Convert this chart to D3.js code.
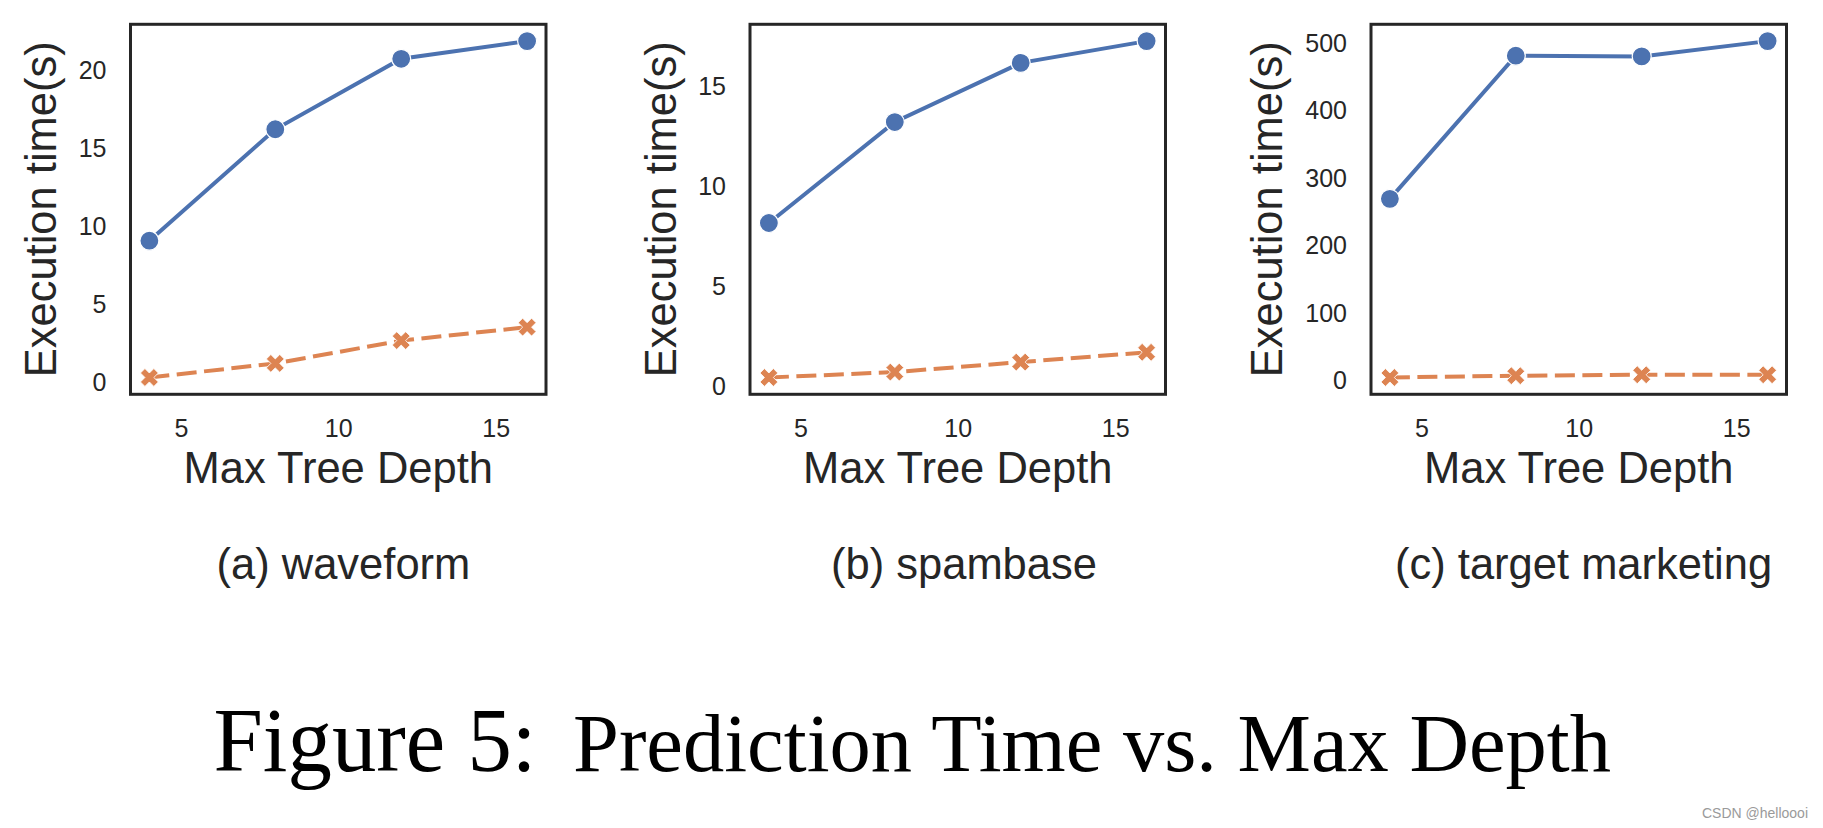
<!DOCTYPE html>
<html>
<head>
<meta charset="utf-8">
<script src="https://cdn.jsdelivr.net/npm/d3@7"></script>
<style>
  html, body { margin: 0; padding: 0; background: #ffffff; }
  svg { display: block; }
</style>
</head>
<body>
<svg id="chart" width="1823" height="828"></svg>
<script>
// ---------------- data ----------------
const depths = [4, 8, 12, 16];
const xTickValues = [5, 10, 15];

const waveformSolid  = [9.03, 16.16, 20.67, 21.80];
const waveformDashed = [0.28, 1.18, 2.64, 3.50];
const spambaseSolid  = [8.11, 13.16, 16.12, 17.21];
const spambaseDashed = [0.38, 0.65, 1.15, 1.64];
const targetSolid    = [268, 480, 479, 501.6];
const targetDashed   = [3.4, 6.0, 7.4, 7.4];

const waveformYTicks = [0, 5, 10, 15, 20];
const spambaseYTicks = [0, 5, 10, 15];
const targetYTicks   = [0, 100, 200, 300, 400, 500];

const subcaptions = ["(a) waveform", "(b) spambase", "(c) target marketing"];
const xLabel = "Max Tree Depth";
const yLabel = "Execution time(s)";
const captionLead = "Figure 5:";
const captionRest = "Prediction Time vs. Max Depth";
const watermark = "CSDN @helloooi";

// ---------------- layout ----------------
const panels = [
  { solid: waveformSolid, dashed: waveformDashed, yTicks: waveformYTicks, left: 130.5, ylabX: 55.5, sub: subcaptions[0], subX: 216.5 },
  { solid: spambaseSolid, dashed: spambaseDashed, yTicks: spambaseYTicks, left: 750,   ylabX: 676,  sub: subcaptions[1], subX: 831 },
  { solid: targetSolid,   dashed: targetDashed,   yTicks: targetYTicks,   left: 1371,  ylabX: 1281.5, sub: subcaptions[2], subX: 1395 }
];
const pw = 415.5, plotTop = 24.3, plotBottom = 394.3;
const blue = "#4C72B0", orange = "#DD8452", ink = "#262626";
const sans = "'Liberation Sans', Arial, Helvetica, sans-serif";
const serif = "'Liberation Serif', 'Times New Roman', Times, serif";

const svg = d3.select("#chart");
svg.append("rect").attr("width", 1823).attr("height", 828).attr("fill", "#fff");

function padded(lo, hi) { const p = (hi - lo) * 0.05; return [lo - p, hi + p]; }

panels.forEach(p => {
  const g = svg.append("g");
  const xs = d3.scaleLinear().domain(padded(d3.min(depths), d3.max(depths))).range([p.left, p.left + pw]);
  const all = p.solid.concat(p.dashed);
  const ys = d3.scaleLinear().domain(padded(d3.min(all), d3.max(all))).range([plotBottom, plotTop]);

  // axes (labels only, no tick marks)
  const ax = g.append("g").attr("transform", `translate(0,${plotBottom})`)
    .call(d3.axisBottom(xs).tickValues(xTickValues).tickSize(0).tickPadding(25).tickFormat(d3.format("d")));
  const ay = g.append("g").attr("transform", `translate(${p.left},0)`)
    .call(d3.axisLeft(ys).tickValues(p.yTicks).tickSize(0).tickPadding(24).tickFormat(d3.format("d")));
  [ax, ay].forEach(a => {
    a.select(".domain").remove();
    a.selectAll("text").attr("font-family", sans).attr("font-size", 25).attr("fill", ink);
  });
  ay.selectAll("text").attr("dy", "0.36em");

  // frame
  g.append("rect").attr("x", p.left).attr("y", plotTop).attr("width", pw).attr("height", plotBottom - plotTop)
    .attr("fill", "none").attr("stroke", ink).attr("stroke-width", 3);

  const line = d3.line().x((d, i) => xs(depths[i])).y(d => ys(d));

  // dashed series
  g.append("path").datum(p.dashed).attr("d", line).attr("fill", "none")
    .attr("stroke", orange).attr("stroke-width", 4).attr("stroke-dasharray", "20,7.5");
  g.selectAll(".xm").data(p.dashed).enter().append("path")
    .attr("d", d3.symbol().type(d3.symbolCross).size(200))
    .attr("transform", (d, i) => `translate(${xs(depths[i])},${ys(d)}) rotate(45)`)
    .attr("fill", orange).attr("stroke", "#fff").attr("stroke-width", 0.8);

  // solid series
  g.append("path").datum(p.solid).attr("d", line).attr("fill", "none")
    .attr("stroke", blue).attr("stroke-width", 4);
  g.selectAll(".cm").data(p.solid).enter().append("circle")
    .attr("cx", (d, i) => xs(depths[i])).attr("cy", d => ys(d)).attr("r", 9.5)
    .attr("fill", blue).attr("stroke", "#fff").attr("stroke-width", 1.2);

  // axis labels
  g.append("text").attr("x", p.left + pw / 2).attr("y", 483.3).attr("text-anchor", "middle")
    .attr("font-family", sans).attr("font-size", 43.5).attr("fill", ink).text(xLabel);
  g.append("text").attr("transform", `translate(${p.ylabX},${(plotTop + plotBottom) / 2}) rotate(-90)`)
    .attr("text-anchor", "middle").attr("font-family", sans).attr("font-size", 43.5).attr("fill", ink).text(yLabel);

  // sub caption
  g.append("text").attr("x", p.subX).attr("y", 579.3)
    .attr("font-family", sans).attr("font-size", 43.5).attr("fill", ink).text(p.sub);
});

// figure caption
svg.append("text").attr("x", 213.5).attr("y", 771).attr("font-family", serif).attr("font-size", 92)
  .attr("textLength", 323).attr("lengthAdjust", "spacingAndGlyphs").attr("fill", "#000").text(captionLead);
svg.append("text").attr("x", 573).attr("y", 771).attr("font-family", serif).attr("font-size", 82)
  .attr("textLength", 1038).attr("lengthAdjust", "spacingAndGlyphs").attr("fill", "#000").text(captionRest);

// watermark
svg.append("text").attr("x", 1808).attr("y", 818).attr("text-anchor", "end")
  .attr("font-family", sans).attr("font-size", 14).attr("fill", "#9a9a9a").text(watermark);
</script>
</body>
</html>
